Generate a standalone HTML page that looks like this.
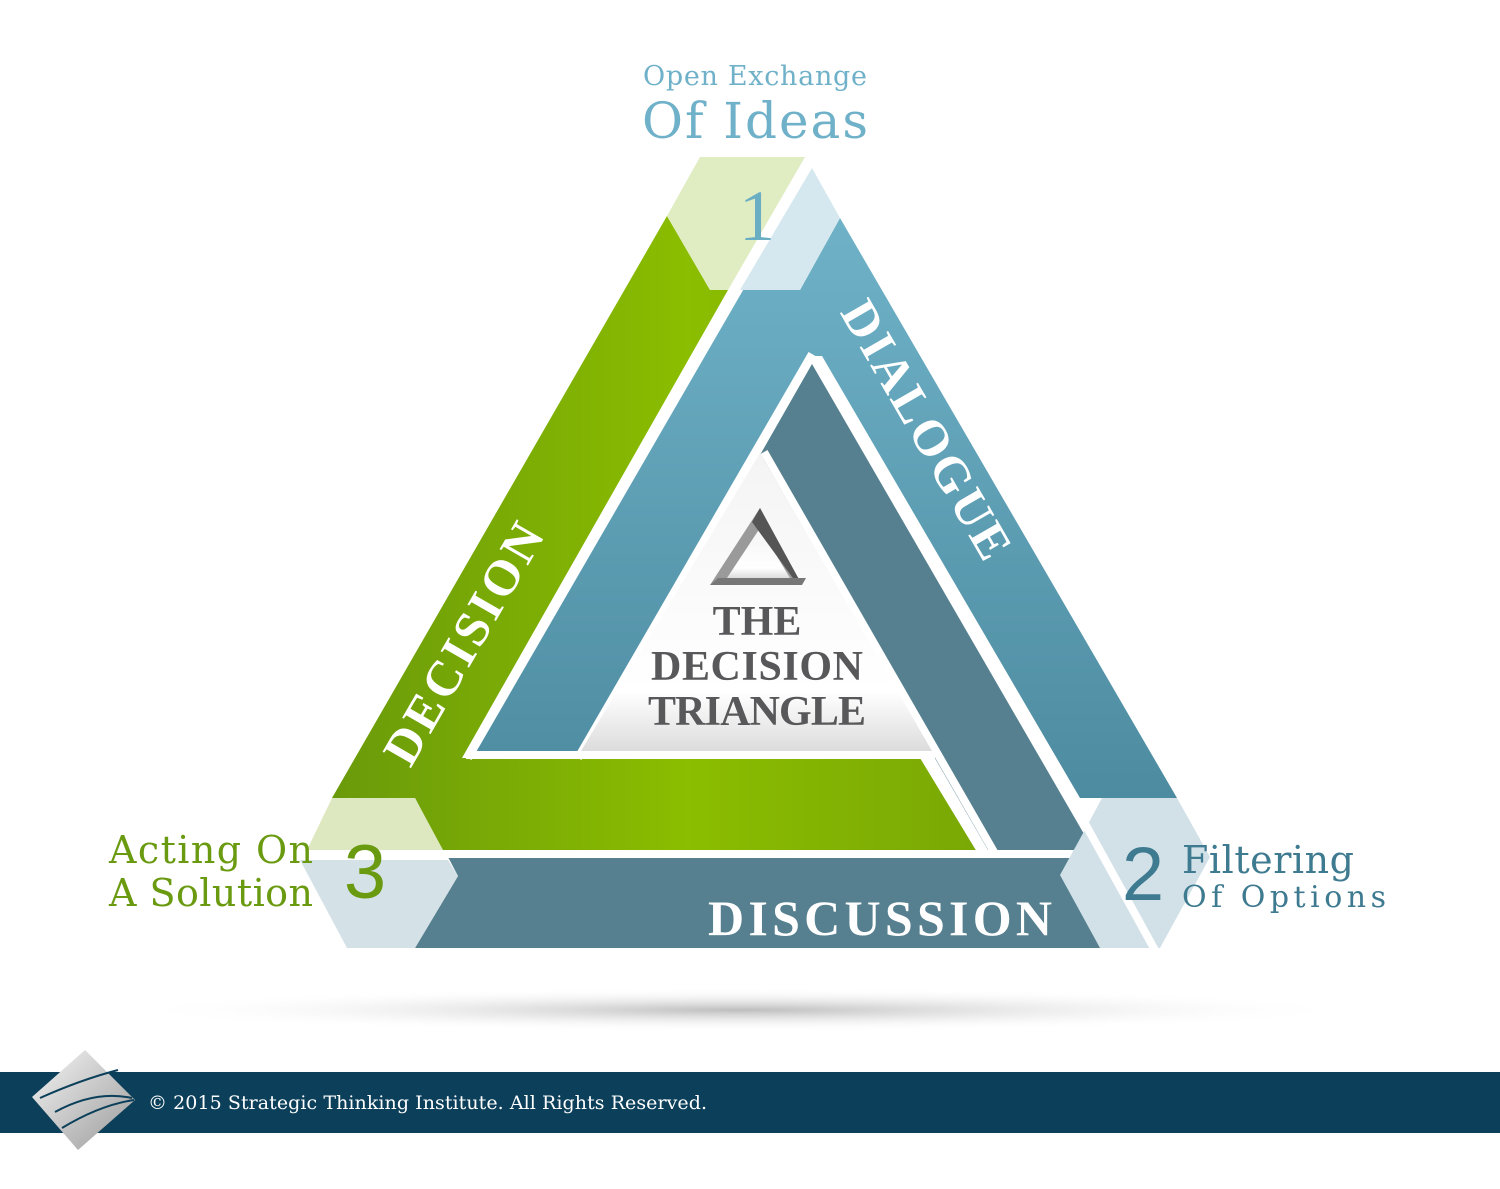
<!DOCTYPE html>
<html><head><meta charset="utf-8"><style>
html,body{margin:0;padding:0;background:#fff;}
svg{display:block;}
</style></head><body>
<svg width="1500" height="1189" viewBox="0 0 1500 1189" xmlns="http://www.w3.org/2000/svg">
<defs>
<linearGradient id="gr" x1="0" y1="0" x2="1" y2="0">
<stop offset="0" stop-color="#6a9a0a"/><stop offset="0.55" stop-color="#8bbd00"/><stop offset="1" stop-color="#7aa805"/></linearGradient>
<linearGradient id="lb" x1="0" y1="0" x2="0" y2="1">
<stop offset="0" stop-color="#6fb2c8"/><stop offset="1" stop-color="#4d8ba0"/></linearGradient>
<linearGradient id="wt" x1="0" y1="0" x2="0" y2="1">
<stop offset="0" stop-color="#f4f4f4"/><stop offset="0.8" stop-color="#ffffff"/><stop offset="1" stop-color="#dcdcdc"/></linearGradient>
<radialGradient id="sh" cx="0.5" cy="0.5" r="0.5">
<stop offset="0" stop-color="#bdbdbd"/><stop offset="1" stop-color="#ffffff" stop-opacity="0"/></radialGradient>
<linearGradient id="lg" x1="0" y1="0" x2="1" y2="1">
<stop offset="0" stop-color="#f5f5f5"/><stop offset="1" stop-color="#9a9a9a"/></linearGradient>
</defs>

<ellipse cx="740" cy="1010" rx="620" ry="22" fill="url(#sh)"/>

<!-- green band -->
<polygon points="667,216 710,290 728,290 462,758 920,758 977,852 443,852 415,798 332,798" fill="url(#gr)"/>
<!-- light blue band -->
<polygon points="738,290 800,290 840,218 1177,798 1080,798 822,356 808,356 585,752 472,752" fill="url(#lb)"/>
<!-- dark blue band -->
<polygon points="812,364 1150,948 415,948 458,876 448,857 992,857 760,455" fill="#56808f"/>
<!-- white gaps -->
<g stroke="#fff" stroke-width="8" fill="none" stroke-linecap="butt">
<line x1="742" y1="284" x2="468" y2="758"/>
<line x1="466" y1="755" x2="935" y2="755"/>
<line x1="814" y1="358" x2="1160" y2="956"/>
<line x1="812" y1="354" x2="578" y2="758"/>
<line x1="440" y1="854" x2="1090" y2="854"/>
<line x1="764" y1="452" x2="994" y2="852"/>
<line x1="812" y1="150" x2="730" y2="295"/>
</g>
<!-- inner white triangle -->
<polygon points="760,453 581,751 932,751" fill="url(#wt)"/>

<!-- hexagons -->
<polygon points="700,157 805,157 728,290 710,290 667,216" fill="#e0ecc1"/>
<polygon points="812,168 840,218 800,290 740,290" fill="#d6e8ef"/>
<polygon points="332,798 415,798 443,850 307,850" fill="#dde8c0"/>
<polygon points="300,860 448,860 458,876 415,948 347,948" fill="#d4e1e7"/>
<polygon points="1060,875 1087,826 1102,798 1177,798 1210,857 1160,948 1100,948" fill="#d2e1e8"/>
<line x1="1040" y1="742" x2="1156" y2="952" stroke="#fff" stroke-width="8"/>

<!-- icon -->
<polygon points="760,508 710,585 802,585" fill="#9a9a9a"/>
<polygon points="760,528 727,578 790,578" fill="url(#wt)"/>
<polygon points="760,508 752,522 798,585 802,585" fill="#555"/>
<polygon points="710,585 802,585 806,578 718,578" fill="#777"/>

<g font-family="Liberation Serif, serif" font-weight="bold" fill="#58585a" text-anchor="middle">
<text x="757" y="635" font-size="42">THE</text>
<text x="757" y="680" font-size="42" textLength="212">DECISION</text>
<text x="757" y="725" font-size="42" textLength="218">TRIANGLE</text>
</g>

<g font-family="Liberation Serif, serif" font-weight="bold" fill="#fff">
<text transform="translate(478,652) rotate(-60)" font-size="50" text-anchor="middle" textLength="270">DECISION</text>
<text transform="translate(912,438) rotate(60)" font-size="50" text-anchor="middle" textLength="290">DIALOGUE</text>
<text x="880" y="935" font-size="50" text-anchor="middle" textLength="344">DISCUSSION</text>
</g>

<g font-family="DejaVu Serif, Liberation Serif, serif">
<text x="755" y="85" font-size="27" fill="#6fb1c9" text-anchor="middle" textLength="224">Open Exchange</text>
<text x="755" y="138" font-size="50" fill="#6fb1c9" text-anchor="middle" textLength="226">Of Ideas</text>
<text x="757" y="240" font-size="72" fill="#6aaec4" text-anchor="middle" font-family="Liberation Serif, serif">1</text>
<text x="313" y="863" font-size="38" fill="#6a9a10" text-anchor="end" textLength="204">Acting On</text>
<text x="313" y="906" font-size="38" fill="#6a9a10" text-anchor="end" textLength="204">A Solution</text>
<text x="1182" y="873" font-size="38" fill="#3e7a90" textLength="172">Filtering</text>
<text x="1182" y="907" font-size="30" fill="#3e7a90" textLength="204">Of Options</text>
</g>
<g font-family="Liberation Sans, sans-serif">
<text x="365" y="898" font-size="76" fill="#6a9a10" text-anchor="middle">3</text>
<text x="1143" y="900" font-size="76" fill="#3e7a90" text-anchor="middle">2</text>
</g>

<rect x="0" y="1072" width="1500" height="61" fill="#0b3f5a"/>
<text x="148" y="1109" font-family="DejaVu Serif, Liberation Serif, serif" font-size="19" fill="#fff" textLength="559">© 2015 Strategic Thinking Institute. All Rights Reserved.</text>
<polygon points="85,1050 135,1100 78,1150 32,1097" fill="url(#lg)"/>
<g stroke="#0b3f5a" stroke-width="2" fill="none">
<path d="M40,1098 Q80,1080 118,1070"/>
<path d="M55,1112 Q95,1090 132,1098"/>
<path d="M62,1128 Q100,1105 134,1100"/>
</g>
</svg>
</body></html>
